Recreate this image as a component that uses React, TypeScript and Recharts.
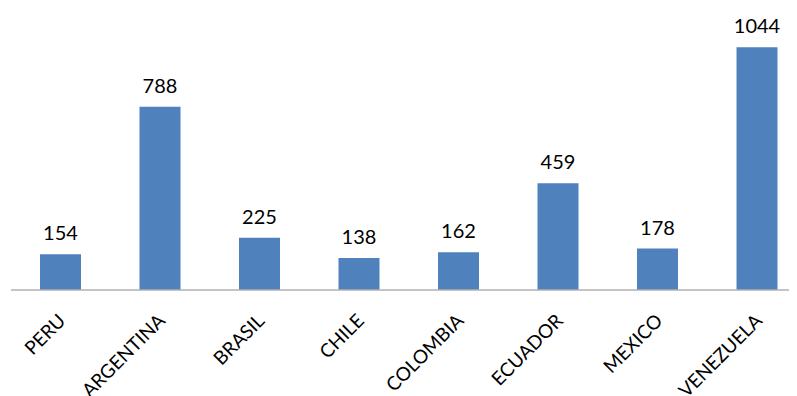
import React from 'react';
import { BarChart, Bar, XAxis, YAxis, LabelList } from 'recharts';

const countries = ['PERU', 'ARGENTINA', 'BRASIL', 'CHILE', 'COLOMBIA', 'ECUADOR', 'MEXICO', 'VENEZUELA'];
const counts = [154, 788, 225, 138, 162, 459, 178, 1044];

const data = countries.map((name, i) => ({ name, value: counts[i] }));

const FONT = 'Lato, "Open Sans", sans-serif';

const CountryTick = ({ x, y, payload }: any) => (
  <text
    x={x + 6}
    y={y + 24}
    transform={`rotate(-45, ${x + 6}, ${y + 24})`}
    textAnchor="end"
    fontSize={19}
    fontFamily={FONT}
    fill="#000"
  >
    {payload.value}
  </text>
);

export default function App() {
  return (
    <div style={{ width: 789, height: 388, overflow: 'hidden' }}>
      <BarChart
        width={799}
        height={388}
        data={data}
        margin={{ top: 3, right: 0, left: 3, bottom: 6 }}
      >
        <XAxis
          dataKey="name"
          interval={0}
          height={100}
          tickLine={false}
          axisLine={{ stroke: '#B0B0B0', strokeWidth: 1.5 }}
          tick={<CountryTick />}
        />
        <YAxis hide domain={[0, 1200]} />
        <Bar dataKey="value" fill="#4F81BD" barSize={41} isAnimationActive={false}>
          <LabelList
            dataKey="value"
            position="top"
            offset={14}
            fontSize={20}
            fontFamily={FONT}
            fill="#000"
          />
        </Bar>
      </BarChart>
    </div>
  );
}
